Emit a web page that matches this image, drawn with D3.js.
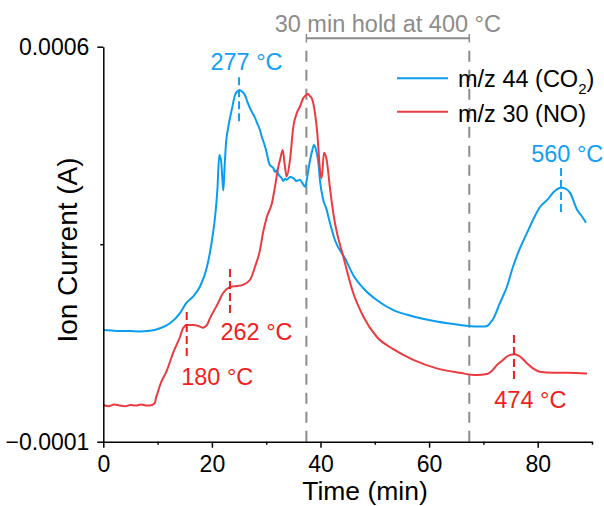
<!DOCTYPE html>
<html><head><meta charset="utf-8">
<script src="https://cdn.jsdelivr.net/npm/d3@7"></script>
<style>
body{margin:0;background:#fff}
text{font-family:"Liberation Sans",Arial,Helvetica,sans-serif}
</style>
</head><body>
<svg id="chart" width="604" height="506"></svg>
<script>
// ---- data (time in min, ion current in µA; axis labels shown in A) ----
const co2Time = [0,1.5,3,4.92,6.5,8.6,10.44,12.28,14.13,15.23,16.52,17.81,19.1,20.2,20.6,21.0,21.36,21.68,21.9,22.1,22.35,22.6,23.02,23.65,24.25,24.7,25.17,25.6,26.1,26.5,27.03,27.5,27.94,28.4,28.86,29.2,29.6,30.09,30.4,30.7,31.31,31.6,31.93,32.3,32.56,32.9,33.15,33.5,33.78,34.4,34.99,35.6,36.22,36.7,37.15,37.4,37.75,38.1,38.38,38.8,39.1,39.3,39.6,39.91,40.52,41.14,41.44,42.67,44.51,46.04,47.88,50.35,53.41,57.09,61.4,65.69,68.77,70.0,70.65,71.22,71.77,73.05,74.35,75.45,76.74,78.03,79.13,80.42,81.71,83.0,84.3,85.2,85.96,87.25,88.1,88.9];
const co2Values = [98,97,96,96,95.5,96.5,101,110,128,145,157,175,210,269,300,345,408,399,370,345,390,429,458,488,514,521,523,520,514,503,491,482,474,463,452,440,429,412,398,390,385,378,381,373,370,366,362,366,364,369,367,362,364,358,352,360,381,400,412,426,420,412,395,362,328,311,299,257,225,195,172,151,133,122,113,107,104,104,105,110,117,146,175,210,243,270,293,316,328,343,350,348,341,311,300,288];

const noTime = [0,1,2,3,4,5,6,7,8,9,9.54,9.7,9.89,10.44,11.73,12.84,14.13,14.68,15.41,16.52,17.81,18.36,19.1,19.65,20.94,22.04,23.33,24.62,25.73,27.03,27.94,28.86,29.41,30.15,31.06,31.62,32.23,32.54,33.04,33.46,33.78,34.38,34.99,35.62,36.22,36.83,37.3,37.75,38.1,38.38,38.99,39.41,39.91,40.22,40.64,41.14,41.75,42.36,42.67,44.2,46.04,47.88,50.35,53.41,57.09,61.4,65.69,68.77,70.65,71.5,72.5,73.5,74.35,75.63,76.74,78.03,79.13,80.42,82.8,85.4,89.08];
const noValues = [-35,-37,-34,-36,-37,-35,-36,-34,-36,-35,-30,-22,-17,0,27,57,86,101,107,107,104,102,107,119,142,163,174,176,178,187,210,240,270,299,323,352,387,399,417,387,370,399,458,482,494,509,514,516,512,509,482,447,381,367,412,399,349,305,287,228,163,122,86,64,45,30,22,18,20,25,36,44,51,55,51,39,30,24,22,22,21];

const xMajorTicks = [0,20,40,60,80];
const xMinorTicks = [10,30,50,70,90];
const yMajorTicks = [-100,600];
const yMinorTicks = [250];

const seriesNames = ["m/z 44 (CO", "m/z 30 (NO)"];
const holdStart = 37.4, holdEnd = 67.4;
const holdLabel = "30 min hold at 400 °C";

// peak annotations: marker at t from v1 to v2; label at (lt, lv)
const peakLabels = ["277 °C","560 °C","180 °C","262 °C","474 °C"];
const peakTime   = [25.0, 84.3, 15.36, 23.33, 75.63];
const peakTop    = [546, 385, 130, 206, 89];
const peakBottom = [465, 305, 51, 125, 6];
const peakLabelT = [26.37, 85.45, 20.99, 28.21, 78.64];
const peakLabelV = [559, 396, 0.5, 80, -40];
const peakSeries = [0,0,1,1,1];

// ---- styles ----
const blue = "#0a9cf0", red = "#eb3b40";
const blueText = "#149ff2", redText = "#f21d1d";
const grey = "#8c8c8c";
const FS = 23.5;

const svg = d3.select("#chart");
const x = d3.scaleLinear().domain([0,90]).range([103.3,592]);
const y = d3.scaleLinear().domain([-100,600]).range([441.7,46.7]);
const fmtA = v => d3.format(".4f")(v*1e-6);

// hold lines
const holdTop = 600, holdBottom = -100;
[holdStart, holdEnd].forEach(t => {
  svg.append("line").attr("x1",x(t)).attr("x2",x(t))
    .attr("y1",y(holdTop)).attr("y2",y(holdBottom))
    .attr("stroke",grey).attr("stroke-width",2)
    .attr("stroke-dasharray","11,8").attr("stroke-dashoffset",15);
});
// hold bracket
const bv = 615, bcap = 4.3;
svg.append("line").attr("x1",x(holdStart)).attr("x2",x(holdEnd))
  .attr("y1",y(bv)).attr("y2",y(bv)).attr("stroke",grey).attr("stroke-width",2);
[holdStart, holdEnd].forEach(t => {
  svg.append("line").attr("x1",x(t)).attr("x2",x(t))
    .attr("y1",y(bv)-bcap).attr("y2",y(bv)+bcap).attr("stroke",grey).attr("stroke-width",1.5);
});
svg.append("text").attr("x",(x(holdStart)+x(holdEnd))/2).attr("y",y(626))
  .attr("text-anchor","middle").attr("font-size",FS).attr("fill",grey).text(holdLabel);

// curves
const line = d3.line().x(d=>x(d[0])).y(d=>y(d[1])).curve(d3.curveMonotoneX);
const co2 = co2Time.map((t,i)=>[t,co2Values[i]]);
const no = noTime.map((t,i)=>[t,noValues[i]]);
svg.append("path").datum(co2).attr("d",line).attr("fill","none")
  .attr("stroke",blue).attr("stroke-width",2).attr("stroke-linejoin","round");
svg.append("path").datum(no).attr("d",line).attr("fill","none")
  .attr("stroke",red).attr("stroke-width",2).attr("stroke-linejoin","round");

// peak markers
peakLabels.forEach((lab,i) => {
  const ct = peakSeries[i]===0 ? blueText : redText;
  svg.append("line").attr("x1",x(peakTime[i])).attr("x2",x(peakTime[i]))
    .attr("y1",y(peakTop[i])).attr("y2",y(peakBottom[i]))
    .attr("stroke",ct).attr("stroke-width",2).attr("stroke-dasharray","8,4");
  svg.append("text").attr("x",x(peakLabelT[i])).attr("y",y(peakLabelV[i]))
    .attr("text-anchor","middle").attr("font-size",FS).attr("fill",ct).text(lab);
});

// axes
const axisStyle = g => {
  g.selectAll("path,line").attr("stroke","#000").attr("stroke-width",1.5);
  g.selectAll("text").attr("font-size",23).attr("fill","#000")
    .attr("font-family","'Liberation Sans',Arial,sans-serif");
};
const gx = svg.append("g").attr("transform",`translate(0,${y(-100)})`)
  .call(d3.axisBottom(x).tickValues(xMajorTicks).tickSize(6).tickSizeOuter(0).tickFormat(d3.format("d")));
gx.selectAll("text").attr("y",30).attr("dy",0);
axisStyle(gx);
const gxm = svg.append("g").attr("transform",`translate(0,${y(-100)})`)
  .call(d3.axisBottom(x).tickValues(xMinorTicks).tickSize(3).tickFormat(""));
gxm.select(".domain").remove();
axisStyle(gxm);

const gy = svg.append("g").attr("transform",`translate(${x(0)},0)`)
  .call(d3.axisLeft(y).tickValues(yMajorTicks).tickSize(6).tickSizeOuter(0).tickFormat(fmtA));
gy.selectAll("text").attr("x",-14).attr("dy","0.33em");
axisStyle(gy);
const gym = svg.append("g").attr("transform",`translate(${x(0)},0)`)
  .call(d3.axisLeft(y).tickValues(yMinorTicks).tickSize(3).tickFormat(""));
gym.select(".domain").remove();
axisStyle(gym);

// axis titles
svg.append("text").attr("x",365).attr("y",500).attr("text-anchor","middle")
  .attr("font-size",26.5).attr("fill","#000").text("Time (min)");
svg.append("text").attr("transform","translate(77,250) rotate(-90)").attr("text-anchor","middle")
  .attr("font-size",28).attr("fill","#000").text("Ion Current (A)");

// legend
const lg = svg.append("g");
[[blue,78.3,86.5],[red,111.7,121.5]].forEach((d,i)=>{
  lg.append("line").attr("x1",397).attr("x2",448).attr("y1",d[1]).attr("y2",d[1])
    .attr("stroke",d[0]).attr("stroke-width",2);
  const t = lg.append("text").attr("x",458).attr("y",d[2]).attr("font-size",FS).attr("fill","#000");
  if (i===0) {
    t.append("tspan").text(seriesNames[0]);
    t.append("tspan").attr("font-size",15).attr("dy",7).text("2");
    t.append("tspan").attr("dy",-7).text(")");
  } else {
    t.text(seriesNames[1]);
  }
});
</script>
</body></html>
